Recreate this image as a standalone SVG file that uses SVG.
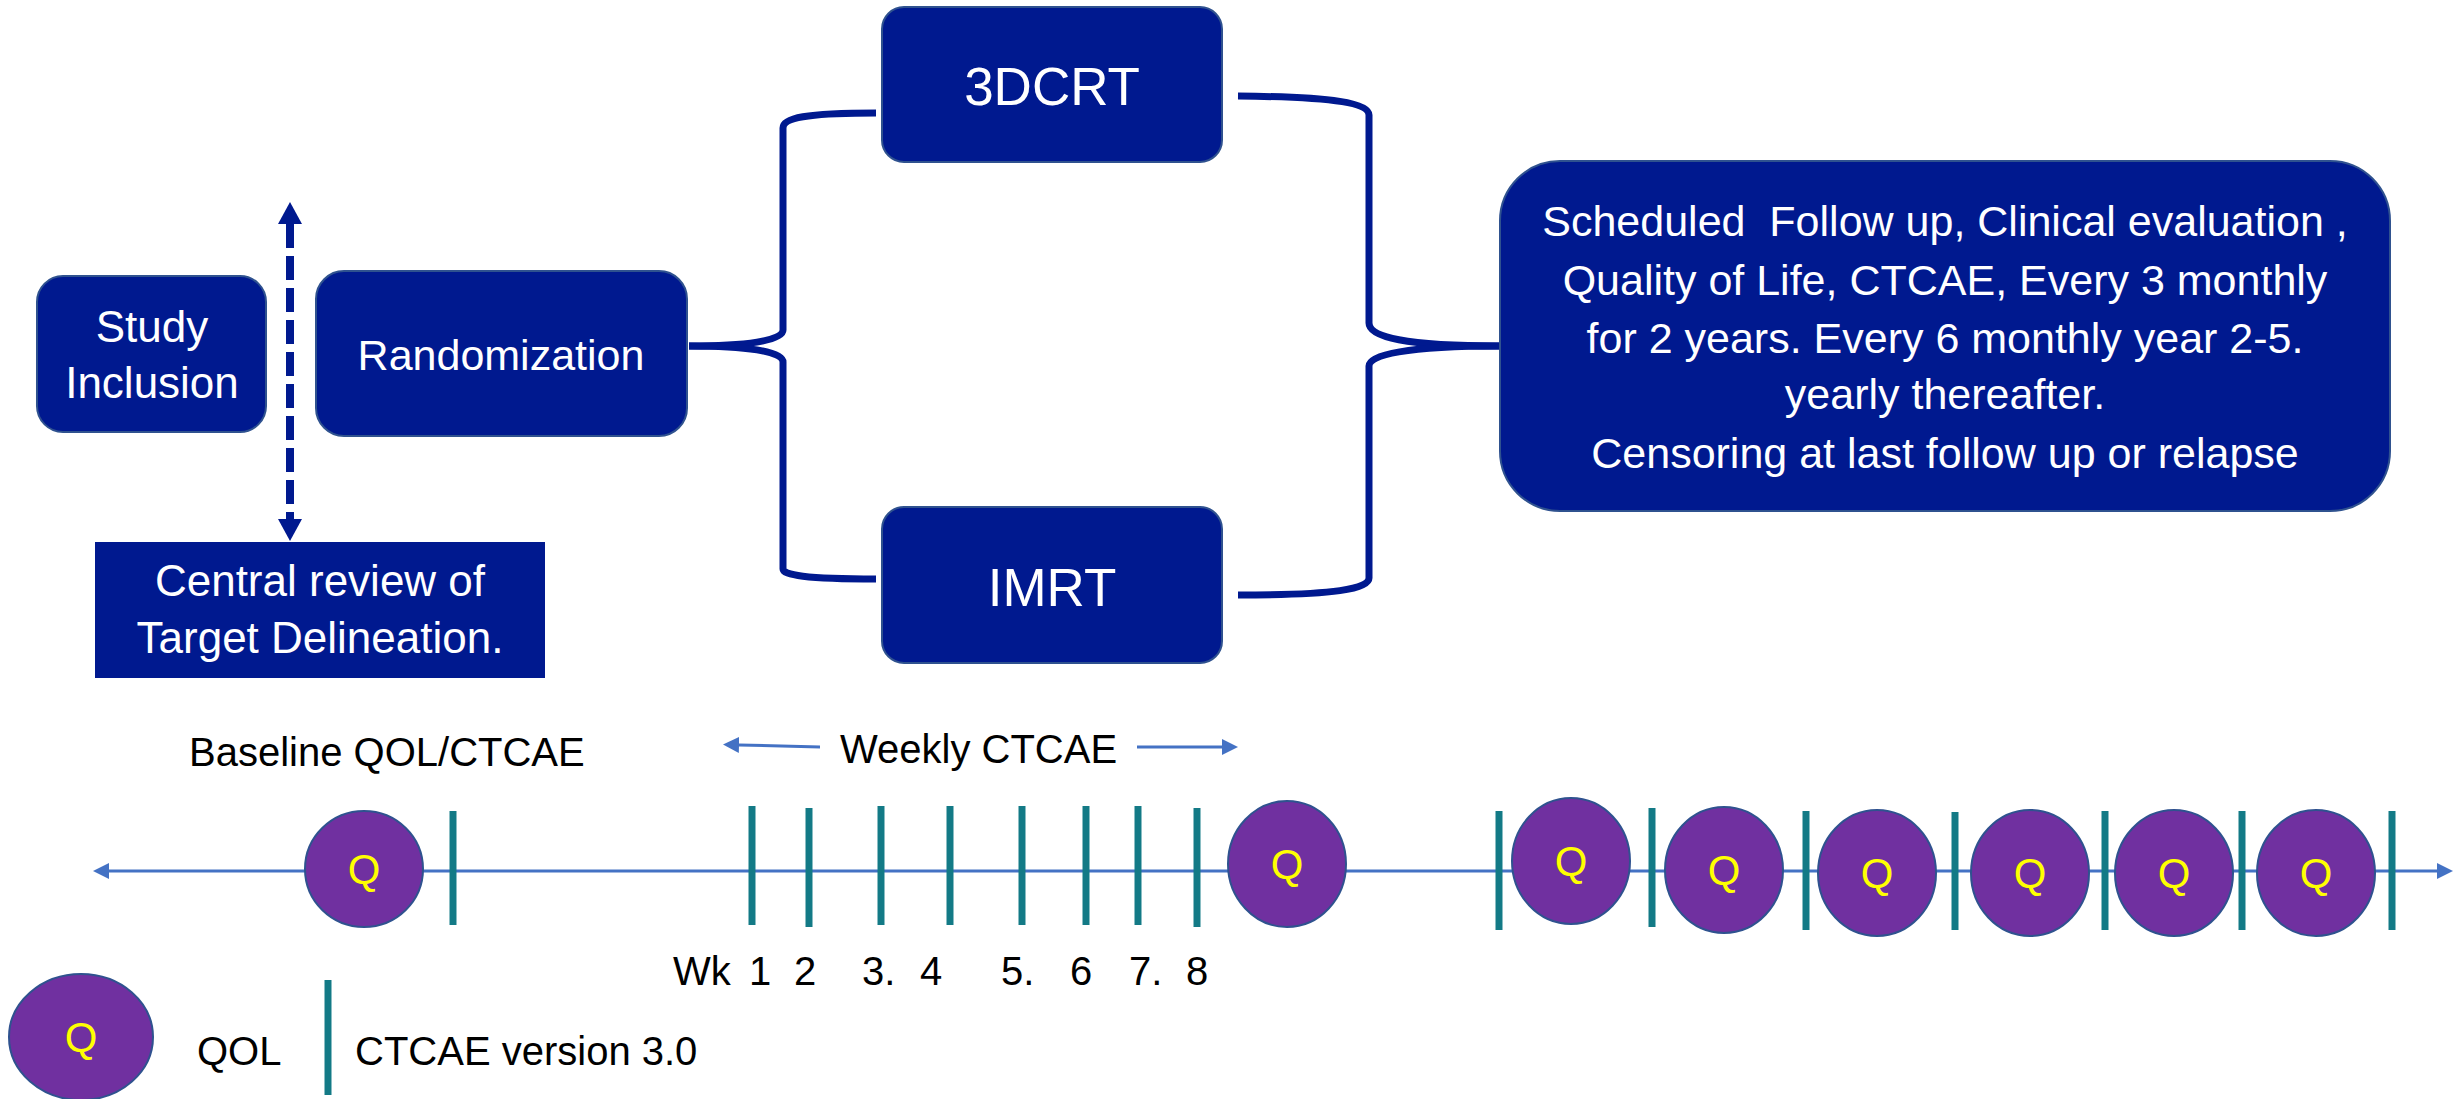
<svg xmlns="http://www.w3.org/2000/svg" width="2453" height="1099" viewBox="0 0 2453 1099">
<defs>
<style>
.box{fill:#00198F;stroke:#2F528F;stroke-width:2}
.wt{font-family:"Liberation Sans",Arial,sans-serif;fill:#FFFFFF;text-anchor:middle}
.bt{font-family:"Liberation Sans",Arial,sans-serif;fill:#000000;font-size:40px}
.brace{fill:none;stroke:#00198F;stroke-width:7}
.tl{stroke:#4472C4;stroke-width:3;fill:none}
.tick{stroke:#137A86;stroke-width:7}
.q{fill:#7030A0;stroke:#2F528F;stroke-width:2}
.qt{font-family:"Liberation Sans",Arial,sans-serif;font-size:42px;fill:#FFFF00;text-anchor:middle}
</style>
<marker id="navyHead" markerUnits="userSpaceOnUse" markerWidth="22" markerHeight="24" viewBox="0 0 22 24" refX="0" refY="12" orient="auto-start-reverse"><path d="M0,0 L22,12 L0,24 z" fill="#00198F"/></marker>
<marker id="blueHead" markerUnits="userSpaceOnUse" markerWidth="16" markerHeight="16" viewBox="0 0 16 16" refX="0" refY="8" orient="auto-start-reverse"><path d="M0,0 L16,8 L0,16 z" fill="#4472C4"/></marker>
</defs>
<rect x="0" y="0" width="2453" height="1099" fill="#FFFFFF"/>

<g id="connectors">
  <path class="brace" d="M876,113 C805,113 783,118 783,128 L783,330 C783,341 745,346 689,346"/>
  <path class="brace" d="M689,346 C745,346 783,351 783,362 L783,569 C783,575 805,579 876,579"/>
  <path class="brace" d="M1238,96 C1335,97 1369,103 1369,115 L1369,323 C1369,337 1405,346 1500,346"/>
  <path class="brace" d="M1500,346 C1405,346 1369,355 1369,366 L1369,578 C1369,589 1335,595 1238,595"/>
  <line x1="290" y1="224" x2="290" y2="519" stroke="#00198F" stroke-width="8" stroke-dasharray="24 8" marker-start="url(#navyHead)" marker-end="url(#navyHead)"/>
</g>

<g id="study-inclusion">
  <rect class="box" x="37" y="276" width="229" height="156" rx="26"/>
  <text class="wt" font-size="44" x="152" y="342">Study</text>
  <text class="wt" font-size="44" x="152" y="398">Inclusion</text>
</g>
<g id="randomization">
  <rect class="box" x="316" y="271" width="371" height="165" rx="28"/>
  <text class="wt" font-size="43" x="501" y="370">Randomization</text>
</g>
<g id="central-review">
  <rect x="95" y="542" width="450" height="136" fill="#00198F"/>
  <text class="wt" font-size="44" x="320" y="596">Central review of</text>
  <text class="wt" font-size="44" x="320" y="653">Target Delineation.</text>
</g>
<g id="3dcrt">
  <rect class="box" x="882" y="7" width="340" height="155" rx="22"/>
  <text class="wt" font-size="53" x="1052" y="105">3DCRT</text>
</g>
<g id="imrt">
  <rect class="box" x="882" y="507" width="340" height="156" rx="22"/>
  <text class="wt" font-size="53" x="1052" y="606">IMRT</text>
</g>
<g id="follow-up">
  <rect class="box" x="1500" y="161" width="890" height="350" rx="60"/>
  <text class="wt" font-size="43" x="1945" y="236" xml:space="preserve">Scheduled  Follow up, Clinical evaluation ,</text>
  <text class="wt" font-size="43" x="1945" y="295">Quality of Life, CTCAE, Every 3 monthly</text>
  <text class="wt" font-size="43" x="1945" y="353">for 2 years. Every 6 monthly year 2-5.</text>
  <text class="wt" font-size="43" x="1945" y="409">yearly thereafter.</text>
  <text class="wt" font-size="43" x="1945" y="468">Censoring at last follow up or relapse</text>
</g>

<g id="timeline">
  <text class="bt" x="189" y="766">Baseline QOL/CTCAE</text>
  <text class="bt" x="840" y="763">Weekly CTCAE</text>
  <line class="tl" x1="820" y1="747" x2="739" y2="745" marker-end="url(#blueHead)"/>
  <line class="tl" x1="1137" y1="747" x2="1222" y2="747" marker-end="url(#blueHead)"/>
  <line class="tl" x1="109" y1="871" x2="2437" y2="871" marker-start="url(#blueHead)" marker-end="url(#blueHead)"/>
  <g id="ticks">
    <line class="tick" x1="453" y1="811" x2="453" y2="925"/>
    <line class="tick" x1="752" y1="806" x2="752" y2="925"/>
    <line class="tick" x1="809" y1="808" x2="809" y2="927"/>
    <line class="tick" x1="881" y1="806" x2="881" y2="925"/>
    <line class="tick" x1="950" y1="806" x2="950" y2="925"/>
    <line class="tick" x1="1022" y1="806" x2="1022" y2="925"/>
    <line class="tick" x1="1086" y1="806" x2="1086" y2="925"/>
    <line class="tick" x1="1138" y1="806" x2="1138" y2="925"/>
    <line class="tick" x1="1197" y1="808" x2="1197" y2="927"/>
    <line class="tick" x1="1499" y1="811" x2="1499" y2="930"/>
    <line class="tick" x1="1652" y1="808" x2="1652" y2="927"/>
    <line class="tick" x1="1806" y1="811" x2="1806" y2="930"/>
    <line class="tick" x1="1955" y1="812" x2="1955" y2="930"/>
    <line class="tick" x1="2105" y1="811" x2="2105" y2="930"/>
    <line class="tick" x1="2242" y1="811" x2="2242" y2="930"/>
    <line class="tick" x1="2392" y1="811" x2="2392" y2="930"/>
  </g>
  <g id="qol-points">
    <ellipse class="q" cx="364" cy="869" rx="59" ry="58"/><text class="qt" x="364" y="884">Q</text>
    <ellipse class="q" cx="1287" cy="864" rx="59" ry="63"/><text class="qt" x="1287" y="879">Q</text>
    <ellipse class="q" cx="1571" cy="861" rx="59" ry="63"/><text class="qt" x="1571" y="876">Q</text>
    <ellipse class="q" cx="1724" cy="870" rx="59" ry="63"/><text class="qt" x="1724" y="885">Q</text>
    <ellipse class="q" cx="1877" cy="873" rx="59" ry="63"/><text class="qt" x="1877" y="888">Q</text>
    <ellipse class="q" cx="2030" cy="873" rx="59" ry="63"/><text class="qt" x="2030" y="888">Q</text>
    <ellipse class="q" cx="2174" cy="873" rx="59" ry="63"/><text class="qt" x="2174" y="888">Q</text>
    <ellipse class="q" cx="2316" cy="873" rx="59" ry="63"/><text class="qt" x="2316" y="888">Q</text>
  </g>
  <text class="bt" y="985"><tspan x="673">Wk</tspan><tspan x="749">1</tspan><tspan x="794">2</tspan><tspan x="862">3.</tspan><tspan x="920">4</tspan><tspan x="1001">5.</tspan><tspan x="1070">6</tspan><tspan x="1129">7.</tspan><tspan x="1186">8</tspan></text>
</g>

<g id="legend">
  <ellipse class="q" cx="81" cy="1037" rx="72" ry="63"/>
  <text class="qt" font-size="40" x="81" y="1052">Q</text>
  <text class="bt" x="197" y="1065">QOL</text>
  <line class="tick" x1="328" y1="980" x2="328" y2="1095"/>
  <text class="bt" x="355" y="1065">CTCAE version 3.0</text>
</g>
</svg>
